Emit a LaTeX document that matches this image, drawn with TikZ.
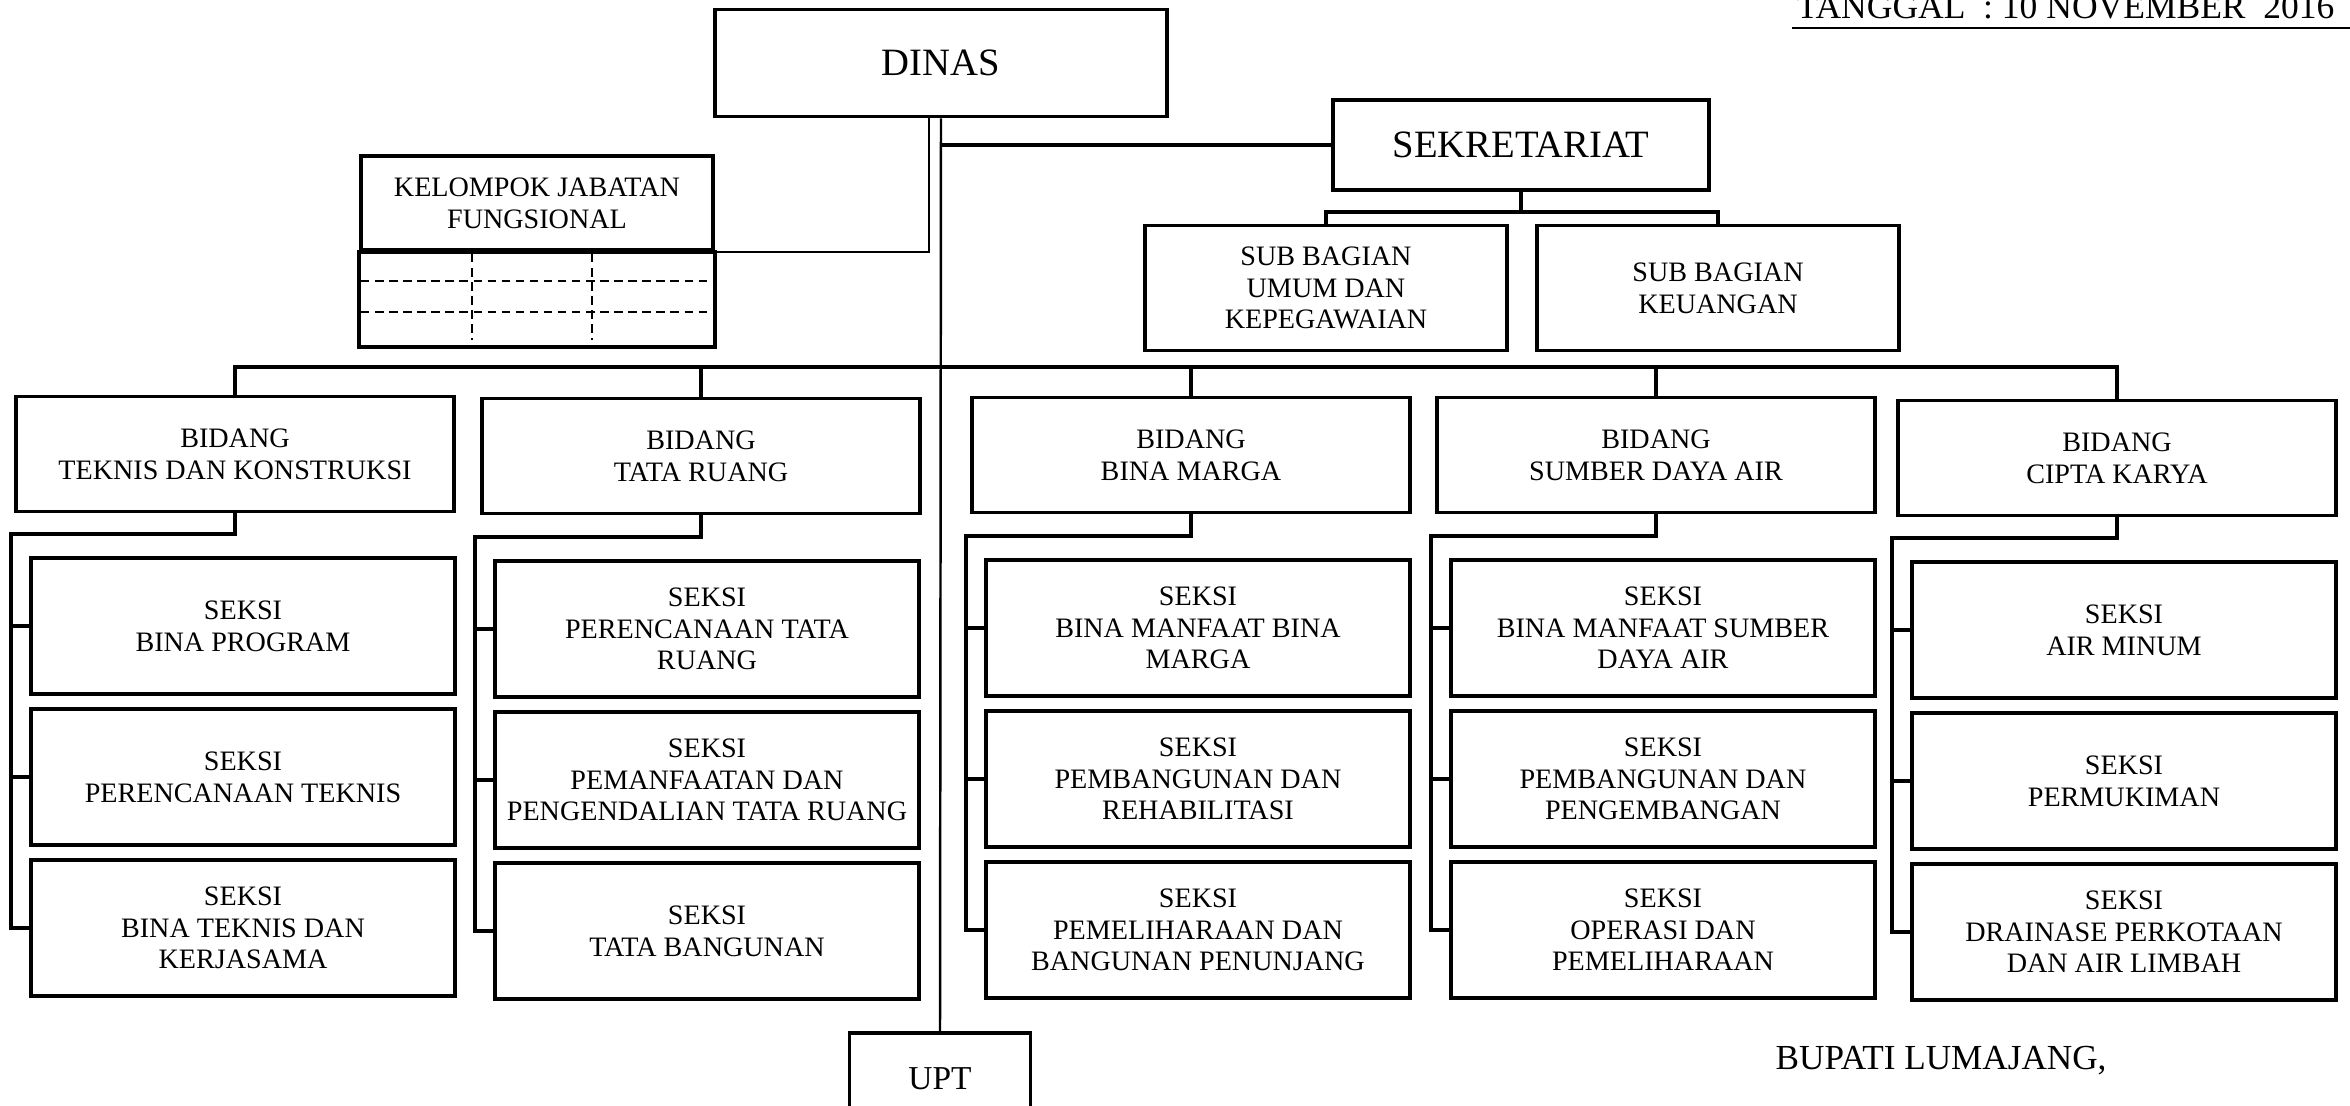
\documentclass[tikz,border=0pt]{standalone}
\usepackage{fontspec}
\setmainfont{Liberation Serif}
\usetikzlibrary{calc}

\tikzset{
	kotak/.style={draw,line width=1.1pt,align=center,inner sep=0pt,font=\fontsize{8}{9}\selectfont},
	bidang/.style={kotak,minimum width=4.38cm,minimum height=1.15cm},
	seksi/.style={kotak,minimum width=4.24cm,minimum height=1.36cm},
	subbag/.style={kotak,minimum width=3.61cm,minimum height=1.25cm},
	garis/.style={line width=1pt},
	putus/.style={line width=0.8pt,dash pattern=on 2.4pt off 1.6pt}
}

\begin{document}
\begin{tikzpicture}[x=0.01cm,y=-0.01cm]
		\useasboundingbox (0,0) rectangle (2350,1105);
		\clip (0,0) rectangle (2350,1105);
		\node[kotak,minimum width=4.52cm,minimum height=1.07cm,font=\fontsize{11}{13}\selectfont] (dinas) at (941,63) {DINAS};
		\node[kotak,minimum width=3.75cm,minimum height=0.90cm,font=\fontsize{11}{13}\selectfont] (sekretariat) at (1521,145) {SEKRETARIAT};
		\node[subbag] (umum) at (1326,288) {SUB BAGIAN\\UMUM DAN\\KEPEGAWAIAN};
		\node[subbag] (keuangan) at (1718,288) {SUB BAGIAN\\KEUANGAN};
		\node[kotak,minimum width=3.52cm,minimum height=0.94cm] (kelompok) at (537,203) {KELOMPOK JABATAN\\FUNGSIONAL};
		\draw[garis] (kelompok.south west) rectangle ($(kelompok.south east)+(0,95)$);
		\draw[putus] (361,281) -- (713,281);
		\draw[putus] (361,312) -- (713,312);
		\draw[putus] (472,254) -- (472,340);
		\draw[putus] (592,254) -- (592,340);
		\node[kotak,minimum width=1.81cm,minimum height=0.92cm,font=\fontsize{9.5}{11}\selectfont] (upt) at (940,1079) {UPT};
		\node[bidang] (bidang1) at (235,454) {BIDANG\\TEKNIS DAN KONSTRUKSI};
		\node[bidang] (bidang2) at (701,456) {BIDANG\\TATA RUANG};
		\node[bidang] (bidang3) at (1191,455) {BIDANG\\BINA MARGA};
		\node[bidang] (bidang4) at (1656,455) {BIDANG\\SUMBER DAYA AIR};
		\node[bidang] (bidang5) at (2117,458) {BIDANG\\CIPTA KARYA};
		\node[seksi] (seksi11) at (243,626) {SEKSI\\BINA PROGRAM};
		\node[seksi] (seksi12) at (243,777) {SEKSI\\PERENCANAAN TEKNIS};
		\node[seksi] (seksi13) at (243,928) {SEKSI\\BINA TEKNIS DAN\\KERJASAMA};
		\node[seksi] (seksi21) at (707,629) {SEKSI\\PERENCANAAN TATA\\RUANG};
		\node[seksi] (seksi22) at (707,780) {SEKSI\\PEMANFAATAN DAN\\PENGENDALIAN TATA RUANG};
		\node[seksi] (seksi23) at (707,931) {SEKSI\\TATA BANGUNAN};
		\node[seksi] (seksi31) at (1198,628) {SEKSI\\BINA MANFAAT BINA\\MARGA};
		\node[seksi] (seksi32) at (1198,779) {SEKSI\\PEMBANGUNAN DAN\\REHABILITASI};
		\node[seksi] (seksi33) at (1198,930) {SEKSI\\PEMELIHARAAN DAN\\BANGUNAN PENUNJANG};
		\node[seksi] (seksi41) at (1663,628) {SEKSI\\BINA MANFAAT SUMBER\\DAYA AIR};
		\node[seksi] (seksi42) at (1663,779) {SEKSI\\PEMBANGUNAN DAN\\PENGEMBANGAN};
		\node[seksi] (seksi43) at (1663,930) {SEKSI\\OPERASI DAN\\PEMELIHARAAN};
		\node[seksi] (seksi51) at (2124,630) {SEKSI\\AIR MINUM};
		\node[seksi] (seksi52) at (2124,781) {SEKSI\\PERMUKIMAN};
		\node[seksi] (seksi53) at (2124,932) {SEKSI\\DRAINASE PERKOTAAN\\DAN AIR LIMBAH};
		\node[anchor=base west,inner sep=0pt,font=\fontsize{10.1}{12}\selectfont] (tanggal) at (1796,18) {TANGGAL\ \ :\ 10 NOVEMBER\ \ 2016};
		\node[anchor=base west,inner sep=0pt,font=\fontsize{10}{12}\selectfont] (bupati) at (1775,1069) {BUPATI LUMAJANG,};
		\draw[line width=0.8pt] ($(tanggal.base west)+(-4,10)$) -- ++(600,0);
		\coordinate (bus) at (941,367);
		\draw[line width=0.7pt] (dinas.south) -- (upt.north);
		\draw[garis] (sekretariat.west) -- (sekretariat.west -| dinas.south);
		\draw[line width=0.7pt] ($(dinas.south)+(-12,0)$) |- (kelompok.south east);
		\draw[garis] (sekretariat.south) -- ++(0,20) coordinate (cabang) -| (umum.north);
		\draw[garis] (cabang) -| (keuangan.north);
		\draw[garis] (bidang1.north) |- (bus) -| (bidang5.north);
		\draw[garis] (bidang2.north) -- (bidang2.north |- bus);
		\draw[garis] (bidang3.north) -- (bidang3.north |- bus);
		\draw[garis] (bidang4.north) -- (bidang4.north |- bus);
		\draw[garis] (bidang1.south) |- ($(seksi11.north west)+(-18,-22)$) |- (seksi13.west);
		\draw[garis] (seksi11.west) -- ++(-18,0);
		\draw[garis] (seksi12.west) -- ++(-18,0);
		\draw[garis] (bidang2.south) |- ($(seksi21.north west)+(-18,-22)$) |- (seksi23.west);
		\draw[garis] (seksi21.west) -- ++(-18,0);
		\draw[garis] (seksi22.west) -- ++(-18,0);
		\draw[garis] (bidang3.south) |- ($(seksi31.north west)+(-18,-22)$) |- (seksi33.west);
		\draw[garis] (seksi31.west) -- ++(-18,0);
		\draw[garis] (seksi32.west) -- ++(-18,0);
		\draw[garis] (bidang4.south) |- ($(seksi41.north west)+(-18,-22)$) |- (seksi43.west);
		\draw[garis] (seksi41.west) -- ++(-18,0);
		\draw[garis] (seksi42.west) -- ++(-18,0);
		\draw[garis] (bidang5.south) |- ($(seksi51.north west)+(-18,-22)$) |- (seksi53.west);
		\draw[garis] (seksi51.west) -- ++(-18,0);
		\draw[garis] (seksi52.west) -- ++(-18,0);
	\end{tikzpicture}
\end{document}
